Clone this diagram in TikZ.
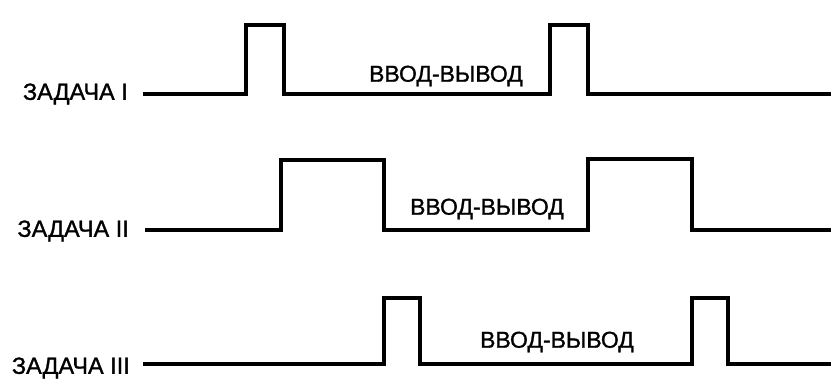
\documentclass[tikz,border=0pt]{standalone}
\usepackage{fontspec}
\setmainfont{Liberation Sans}
\newfontfamily\labfont[FakeBold=1.2]{Liberation Sans}
\begin{document}
\begin{tikzpicture}[x=1pt,y=-1pt,
  wave/.style={line width=4.5pt, line join=miter, line cap=butt},
  lab/.style={font=\labfont\fontsize{23.5}{26}\selectfont, inner sep=0pt, anchor=east},
  io/.style={font=\labfont\fontsize{23}{26}\selectfont, inner sep=0pt}]
\useasboundingbox (0,0) rectangle (831,379);
% labels
\node[lab] (t1) at (128,94) {ЗАДАЧА I};
\node[lab] (t2) at (129,231) {ЗАДАЧА II};
\node[lab] (t3) at (130,368) {ЗАДАЧА III};
\node[io] (io1) at (446,76) {ВВОД-ВЫВОД};
\node[io] (io2) at (487,209) {ВВОД-ВЫВОД};
\node[io] (io3) at (557,342) {ВВОД-ВЫВОД};
% coordinates of line ends
\coordinate (s1) at (143,94);
\coordinate (e1) at (831,94);
\coordinate (s2) at (145,230);
\coordinate (e2) at (831,230);
\coordinate (s3) at (143,364);
\coordinate (e3) at (831,364);
% waveforms
\draw[wave] (s1) -- (246,94) -- (246,25) -- (284,25) -- (284,94) -- (550,94) -- (550,25) -- (588,25) -- (588,94) -- (e1);
\draw[wave] (s2) -- (281,230) -- (281,160) -- (384,160) -- (384,230) -- (588,230) -- (588,159) -- (692,159) -- (692,230) -- (e2);
\draw[wave] (s3) -- (384,364) -- (384,298) -- (420,298) -- (420,364) -- (692,364) -- (692,298) -- (728,298) -- (728,364) -- (e3);
\end{tikzpicture}
\end{document}
